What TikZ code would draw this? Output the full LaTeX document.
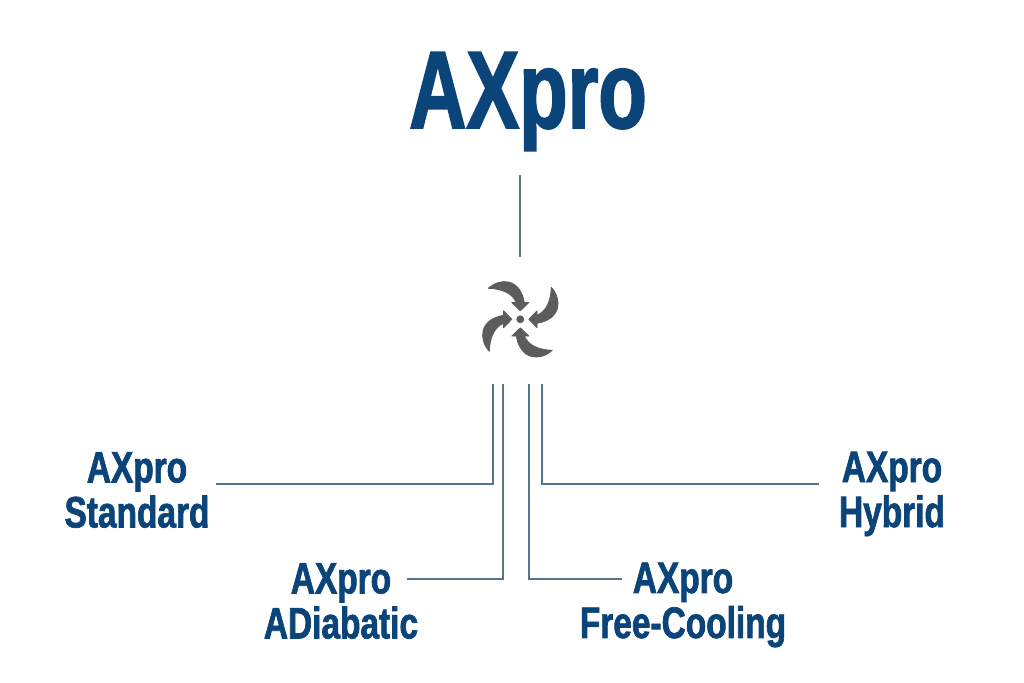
\documentclass[tikz,border=0pt]{standalone}
\usepackage{fontspec}
\newfontfamily\axf[FakeStretch=0.72,FakeBold=1.6]{Liberation Sans}
\newfontfamily\axs[FakeStretch=0.76,FakeBold=1.6]{Liberation Sans}
\definecolor{axblue}{HTML}{0A4479}
\definecolor{axline}{HTML}{54758C}
\definecolor{axgray}{HTML}{5C5C5C}
\tikzset{
  bigtitle/.style={anchor=base,inner sep=0pt,outer ysep=24pt,text=axblue,font=\axf\bfseries\fontsize{110}{110}\selectfont},
  label/.style={inner sep=0pt,align=center,text=axblue,font=\axs\bfseries\fontsize{44}{45}\selectfont},
  conn/.style={draw=axline,line width=1.3pt},
  blade/.style={fill=axgray,draw=axgray,line width=0.8pt,line join=round},
}
\begin{document}
\begin{tikzpicture}[x=1pt,y=-1pt]
\useasboundingbox (0,0) rectangle (1024,682);
\node[bigtitle] (title) at (528,128) {AXpro};
\node[minimum width=76pt,minimum height=124pt,inner sep=0pt] (icon) at (520,319) {};
\node[label] (std) at (137,490) {AXpro\\Standard};
\node[label] (adi) at (341,601) {AXpro\\ADiabatic};
\node[label] (fre) at (683,605) {AXpro\\Free-Cooling};
\node[label] (hyb) at (892,494) {AXpro\\Hybrid};
\coordinate (t1) at (493,384);
\coordinate (t2) at (503,384);
\coordinate (t3) at (529,384);
\coordinate (t4) at (542,384);
\coordinate (e1) at (216,484);
\coordinate (e2) at (407,579);
\coordinate (e3) at (622,579);
\coordinate (e4) at (819,484);
\draw[conn] (title.south -| icon) -- (icon.north);
\draw[conn] (e1) -| (t1);
\draw[conn] (e2) -| (t2);
\draw[conn] (e3) -| (t3);
\draw[conn] (e4) -| (t4);
\foreach \a in {0,90,180,270}{
  \begin{scope}[shift={(520.3,319.3)},rotate=\a]
    \fill[blade] (-32,-31) .. controls (-20,-42) and (0,-41) .. (4,-16.7)
      -- (8.5,-16.7) -- (0,-8.5) -- (-8.5,-16.7) -- (-4,-16.7)
      .. controls (-8,-26) and (-18,-30.5) .. cycle;
  \end{scope}
}
\fill[blade] (520.3,319.3) circle (3.5);
\end{tikzpicture}
\end{document}
